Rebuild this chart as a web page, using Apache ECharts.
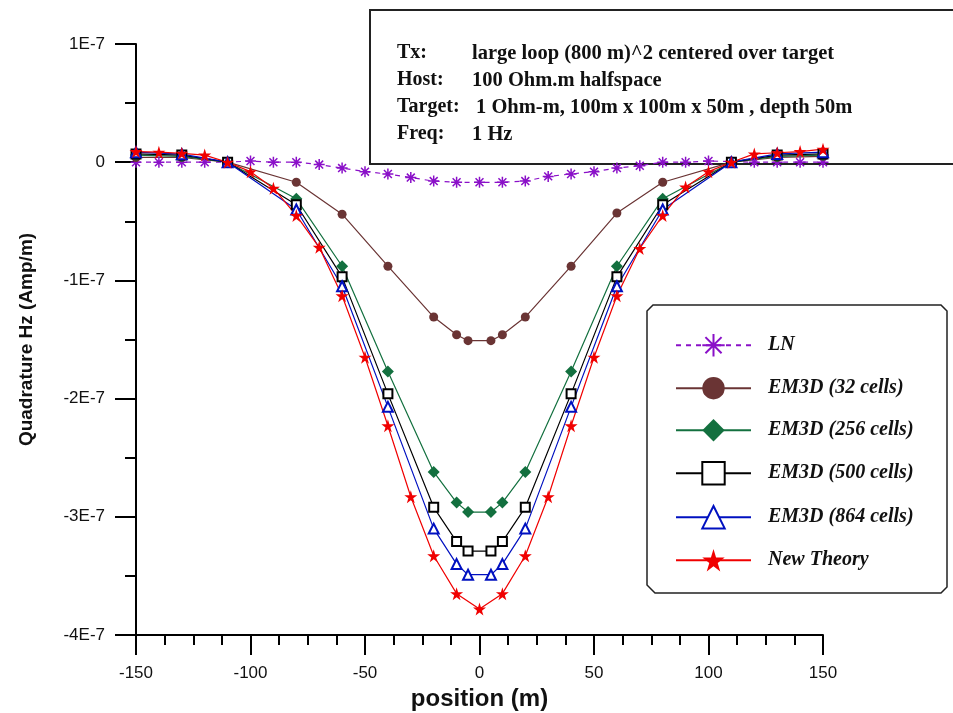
<!DOCTYPE html>
<html>
<head>
<meta charset="utf-8">
<script src="https://cdn.jsdelivr.net/npm/echarts@6/dist/echarts.min.js"></script>
<style>
  html, body { margin: 0; padding: 0; background: #fff; }
  #chart { width: 953px; height: 713px; }
</style>
</head>
<body>
<div id="chart"></div>
<script>
// values in units of 1E-7 Amp/m
const posFine = [-150, -140, -130, -120, -110, -100, -90, -80, -70, -60, -50, -40, -30, -20, -10, 0,
    10, 20, 30, 40, 50, 60, 70, 80, 90, 100, 110, 120, 130, 140, 150];
const posEM3D = [-150, -130, -110, -80, -60, -40, -20, -10, -5, 5, 10, 20, 40, 60, 80, 110, 130, 150];

const lnVals = [0, 0, 0, 0, 0, 0.01, 0, 0, -0.02, -0.05, -0.08, -0.10, -0.13, -0.16, -0.17, -0.17,
    -0.17, -0.16, -0.12, -0.10, -0.08, -0.05, -0.03, 0, 0, 0.01, 0.005, 0, 0, 0, 0];
const em32Vals = [0.04, 0.04, 0, -0.17, -0.44, -0.88, -1.31, -1.46, -1.51, -1.51, -1.46, -1.31, -0.88, -0.43, -0.17, 0, 0.04, 0.05];
const em256Vals = [0.06, 0.05, 0, -0.31, -0.88, -1.77, -2.62, -2.88, -2.96, -2.96, -2.88, -2.62, -1.77, -0.88, -0.31, 0, 0.05, 0.06];
const em500Vals = [0.07, 0.06, 0, -0.36, -0.97, -1.96, -2.92, -3.21, -3.29, -3.29, -3.21, -2.92, -1.96, -0.97, -0.36, 0, 0.06, 0.07];
const em864Vals = [0.085, 0.068, 0, -0.40, -1.05, -2.07, -3.10, -3.40, -3.49, -3.49, -3.40, -3.10, -2.07, -1.05, -0.40, 0, 0.07, 0.085];
const newTheoryVals = [0.09, 0.085, 0.075, 0.06, 0, -0.08, -0.22, -0.45, -0.72, -1.13, -1.65, -2.23, -2.83, -3.33, -3.65, -3.78,
    -3.65, -3.33, -2.83, -2.23, -1.65, -1.13, -0.73, -0.45, -0.21, -0.08, 0, 0.07, 0.08, 0.09, 0.11];

const seriesNames = ['LN', 'EM3D (32 cells)', 'EM3D (256 cells)', 'EM3D (500 cells)', 'EM3D (864 cells)', 'New Theory'];

const infoLabels = ['Tx:', 'Host:', 'Target:', 'Freq:'];
const infoTexts = ['large loop (800 m)^2 centered over target', '100 Ohm.m halfspace',
    '1 Ohm-m, 100m x 100m x 50m , depth 50m', '1 Hz'];

const asterisk = 'path://M0,-5L0,5M-5,0L5,0M-3.6,-3.6L3.6,3.6M-3.6,3.6L3.6,-3.6';
const star = 'path://M50,0L61,35L98,35L68,57L79,91L50,70L21,91L32,57L2,35L39,35Z';

function pairs(xs, ys) {
    return xs.map((x, i) => [x, ys[i]]);
}

function lineSeries(name, xs, ys, color, symbol, size, extra) {
    return Object.assign({
        name: name,
        type: 'line',
        data: pairs(xs, ys),
        symbol: symbol,
        symbolSize: size,
        showAllSymbol: true,
        color: color,
        lineStyle: { color: color, width: 1.2 },
        itemStyle: { color: color, borderColor: color, borderWidth: 0 },
        emphasis: { disabled: true }
    }, extra || {});
}

const chart = echarts.init(document.getElementById('chart'));

const infoGraphics = [];
infoLabels.forEach((t, i) => {
    const y = 55 + i * 27;
    infoGraphics.push({
        type: 'text', left: 397, top: y - 12, z: 10,
        style: { text: t, font: 'bold 20px "Liberation Serif"', fill: '#111' }
    });
    infoGraphics.push({
        type: 'text', left: i === 2 ? 476 : 472, top: y - 12, z: 10,
        style: { text: infoTexts[i], font: 'bold 20.5px "Liberation Serif"', fill: '#111' }
    });
});

const option = {
    animation: false,
    backgroundColor: '#fff',
    grid: { left: 136, right: 130, top: 44, bottom: 78, containLabel: false, outerBoundsMode: 'none' },
    xAxis: {
        type: 'value',
        min: -150, max: 150, interval: 50,
        name: 'position (m)',
        nameLocation: 'middle',
        nameGap: 51,
        nameTextStyle: { fontFamily: 'Liberation Sans', fontWeight: 'bold', fontSize: 24, color: '#111' },
        axisLine: { onZero: false, lineStyle: { color: '#000', width: 2 } },
        axisTick: { length: 20, lineStyle: { color: '#000', width: 2 } },
        minorTick: { show: true, splitNumber: 4, length: 10, lineStyle: { color: '#000', width: 2 } },
        axisLabel: { margin: 30, fontFamily: 'Liberation Sans', fontSize: 17, color: '#111' },
        splitLine: { show: false }
    },
    yAxis: {
        type: 'value',
        min: -4, max: 1, interval: 1,
        name: 'Quadrature Hz (Amp/m)',
        nameLocation: 'middle',
        nameGap: 100,
        nameTextStyle: { fontFamily: 'Liberation Sans', fontWeight: 'bold', fontSize: 19, color: '#111' },
        axisLine: { onZero: false, lineStyle: { color: '#000', width: 2 } },
        axisTick: { length: 21, lineStyle: { color: '#000', width: 2 } },
        minorTick: { show: true, splitNumber: 2, length: 11, lineStyle: { color: '#000', width: 2 } },
        axisLabel: {
            margin: 31, fontFamily: 'Liberation Sans', fontSize: 17, color: '#111',
            formatter: v => v === 0 ? '0' : v + 'E-7'
        },
        splitLine: { show: false }
    },
    legend: {
        orient: 'vertical',
        left: 670, top: 328,
        itemWidth: 75, itemHeight: 28, itemGap: 19.6,
        data: seriesNames,
        textStyle: {
            fontFamily: 'Liberation Serif', fontStyle: 'italic', fontWeight: 'bold',
            fontSize: 20, color: '#111', padding: [0, 0, 0, 12]
        }
    },
    graphic: [
        {
            type: 'polygon', z: 0, silent: true,
            shape: { points: [[653, 305], [941, 305], [947, 311], [947, 587], [941, 593], [655, 593], [647, 585], [647, 311]] },
            style: { fill: 'none', stroke: '#222', lineWidth: 1.5 }
        },
        {
            type: 'rect', z: 0, silent: true,
            shape: { x: 370, y: 10, width: 600, height: 154 },
            style: { fill: 'none', stroke: '#222', lineWidth: 2 }
        }
    ].concat(infoGraphics),
    series: [
        lineSeries(seriesNames[0], posFine, lnVals, '#8a10c8', asterisk, 11, {
            lineStyle: { color: '#8a10c8', width: 1.2, type: [5, 5] },
            itemStyle: { color: '#8a10c8', borderColor: '#8a10c8', borderWidth: 1.5 }
        }),
        lineSeries(seriesNames[1], posEM3D, em32Vals, '#6a3434', 'circle', 9),
        lineSeries(seriesNames[2], posEM3D, em256Vals, '#13703f', 'diamond', 12),
        lineSeries(seriesNames[3], posEM3D, em500Vals, '#000000', 'emptyRect', 9, {
            itemStyle: { color: '#000000', borderColor: '#000000', borderWidth: 1.5 }
        }),
        lineSeries(seriesNames[4], posEM3D, em864Vals, '#0010c0', 'emptyTriangle', 10, {
            itemStyle: { color: '#0010c0', borderColor: '#0010c0', borderWidth: 1.5 }
        }),
        lineSeries(seriesNames[5], posFine, newTheoryVals, '#f00000', star, 13)
    ]
};

chart.setOption(option);
</script>
</body>
</html>
